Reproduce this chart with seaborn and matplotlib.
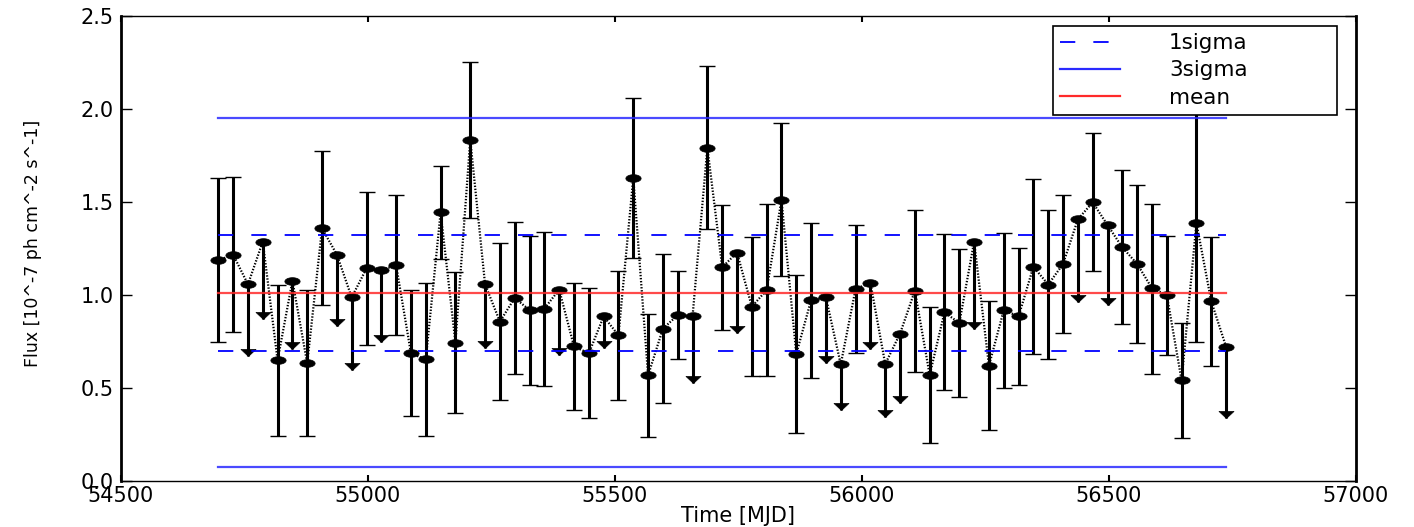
import numpy as np
import pandas as pd
import matplotlib
matplotlib.use("Agg")
import matplotlib.pyplot as plt
import seaborn as sns
from matplotlib.path import Path

# ---------------- data ----------------
time_mjd = [54697, 54727, 54757, 54787, 54817, 54847, 54877, 54907, 54937, 54967,
            54997, 55027, 55057, 55087, 55117, 55147, 55177, 55207, 55237, 55267,
            55297, 55327, 55357, 55387, 55417, 55447, 55477, 55507, 55537, 55567,
            55597, 55627, 55657, 55687, 55717, 55747, 55777, 55807, 55837, 55867,
            55897, 55927, 55957, 55987, 56017, 56047, 56077, 56107, 56137, 56167,
            56197, 56227, 56257, 56287, 56317, 56347, 56377, 56407, 56437, 56467,
            56497, 56527, 56557, 56587, 56617, 56647, 56677, 56707, 56737]

flux = [1.186, 1.217, 1.057, 1.287, 0.649, 1.077, 0.633, 1.358, 1.217, 0.987,
        1.143, 1.136, 1.159, 0.686, 0.654, 1.444, 0.744, 1.835, 1.057, 0.857,
        0.984, 0.919, 0.927, 1.029, 0.724, 0.686, 0.885, 0.783, 1.631, 0.568,
        0.819, 0.892, 0.885, 1.792, 1.149, 1.228, 0.937, 1.027, 1.511, 0.683,
        0.973, 0.987, 0.627, 1.032, 1.066, 0.629, 0.792, 1.023, 0.570, 0.907,
        0.849, 1.287, 0.620, 0.918, 0.885, 1.152, 1.056, 1.167, 1.407, 1.498,
        1.376, 1.256, 1.167, 1.036, 1.000, 0.541, 1.387, 0.966, 0.722]

# lower end of each bar (for upper limits: tip of the arrow)
flux_lower = [0.747, 0.801, 0.672, 0.869, 0.242, 0.708, 0.242, 0.946, 0.833, 0.597,
              0.729, 0.749, 0.783, 0.349, 0.242, 1.192, 0.364, 1.414, 0.713, 0.434,
              0.575, 0.516, 0.509, 0.677, 0.380, 0.337, 0.713, 0.437, 1.199, 0.238,
              0.418, 0.654, 0.525, 1.353, 0.814, 0.794, 0.563, 0.563, 1.102, 0.260,
              0.556, 0.633, 0.382, 0.686, 0.708, 0.346, 0.418, 0.586, 0.203, 0.487,
              0.450, 0.815, 0.274, 0.498, 0.518, 0.683, 0.656, 0.794, 0.964, 1.127,
              0.946, 0.842, 0.740, 0.577, 0.679, 0.231, 0.746, 0.620, 0.337]

# upper end of each bar (None for upper limits)
flux_upper = [1.627, 1.634, None, None, 1.056, None, 1.025, 1.772, None, None,
              1.556, None, 1.536, 1.025, 1.066, 1.694, 1.122, 2.251, None, 1.278,
              1.394, 1.317, 1.341, None, 1.066, 1.036, None, 1.129, 2.061, 0.898,
              1.219, 1.131, None, 2.229, 1.484, None, 1.310, 1.487, 1.923, 1.106,
              1.389, None, None, 1.376, None, None, None, 1.459, 0.934, 1.326,
              1.246, None, 0.968, 1.333, 1.251, 1.625, 1.455, 1.536, None, 1.869,
              None, 1.670, 1.593, 1.491, 1.319, 0.851, 2.029, 1.310, None]

mean_level = [1.012]
one_sigma_levels = [1.325, 0.699]
three_sigma_levels = [1.951, 0.073]

# ---------------- figure ----------------
plt.rcParams["font.family"] = ["DejaVu Sans"]
plt.rcParams["lines.scale_dashes"] = False

fig = plt.figure(figsize=(14.14, 5.27), dpi=100)
ax = fig.add_axes([0.08557, 0.08729, 0.87341, 0.88235])

df = pd.DataFrame({
    "t": time_mjd,
    "flux": flux,
    "lower": flux_lower,
    "upper": [np.nan if u is None else u for u in flux_upper],
})
df["ul"] = df["upper"].isna()
det = df[~df["ul"]]
ul = df[df["ul"]]

# detections: error bars with caps
ax.errorbar(det["t"], det["flux"],
            yerr=[det["flux"] - det["lower"], det["upper"] - det["flux"]],
            fmt="none", ecolor="k", elinewidth=2.2, capsize=5.8, capthick=1.0,
            zorder=2)

# upper limits: stem + down arrow head
ax.vlines(ul["t"], ul["lower"], ul["flux"], colors="k", lw=2.2, zorder=2)
caret = Path([(-1.0, 0.94), (0.0, 0.0), (1.0, 0.94), (-1.0, 0.94)],
             [Path.MOVETO, Path.LINETO, Path.LINETO, Path.CLOSEPOLY])
ax.plot(ul["t"], ul["lower"], ls="none", marker=caret, ms=10.8,
        color="k", mec="k", mew=0.5, zorder=2)

# light curve: dotted connection + (horizontally stretched) ellipse markers
theta = np.linspace(0, 2 * np.pi, 60)
ellipse = Path(np.column_stack([np.cos(theta), 0.5 * np.sin(theta)]), closed=True)
sns.lineplot(data=df, x="t", y="flux", ax=ax, color="k", sort=False,
             estimator=None, errorbar=None, lw=1.6, linestyle=(0, (1, 1.2)),
             marker=ellipse, markersize=11, mec="k", mfc="k", mew=0.5,
             zorder=3)

# reference levels
t0, t1 = time_mjd[0], time_mjd[-1]
for i, y in enumerate(one_sigma_levels):
    ax.plot([t0, t1], [y, y], color="#0000ff", lw=1.3, dashes=(11, 13),
            label="1sigma" if i == 0 else None, zorder=4)
for i, y in enumerate(three_sigma_levels):
    ax.plot([t0, t1], [y, y], color="#2a2aff", lw=1.6, alpha=0.85,
            label="3sigma" if i == 0 else None, zorder=4)
for y in mean_level:
    ax.plot([t0, t1], [y, y], color="#ff2a2a", lw=1.6, alpha=0.85,
            label="mean", zorder=4)

ax.set_xlim(54500, 57000)
ax.set_ylim(0.0, 2.5)
ax.set_xticks([54500, 55000, 55500, 56000, 56500, 57000])
ax.set_yticks([0.0, 0.5, 1.0, 1.5, 2.0, 2.5])
ax.set_yticklabels(["0.0", "0.5", "1.0", "1.5", "2.0", "2.5"])

ax.tick_params(direction="in", top=True, right=True, labelsize=15, colors="k")
ax.tick_params(axis="x", length=4, width=1.5, pad=3.5)
ax.tick_params(axis="y", length=8, width=1.0, pad=5.5)

for side in ["left", "right"]:
    ax.spines[side].set_linewidth(2.0)
for side in ["top", "bottom"]:
    ax.spines[side].set_linewidth(1.0)
for sp in ax.spines.values():
    sp.set_color("k")

ax.set_xlabel("Time [MJD]", fontsize=15, va="top")
ax.set_ylabel("Flux [10^-7 ph cm^-2 s^-1]", fontsize=12.5)
ax.xaxis.set_label_coords(0.5, -0.054)
ax.yaxis.set_label_coords(-0.064, 0.51)

leg = ax.legend(loc="upper left", bbox_to_anchor=(0.7547, 0.5, 0.2300, 0.4785),
                mode="expand", borderaxespad=0, fontsize=15.5, handlelength=2.75,
                handletextpad=2.3, labelspacing=0.33, borderpad=0.34,
                fancybox=False, framealpha=1, edgecolor="k")
leg.get_frame().set_linewidth(1.2)
for h in leg.legend_handles:
    h.set_alpha(1)

fig.savefig("out.png", dpi=100)
